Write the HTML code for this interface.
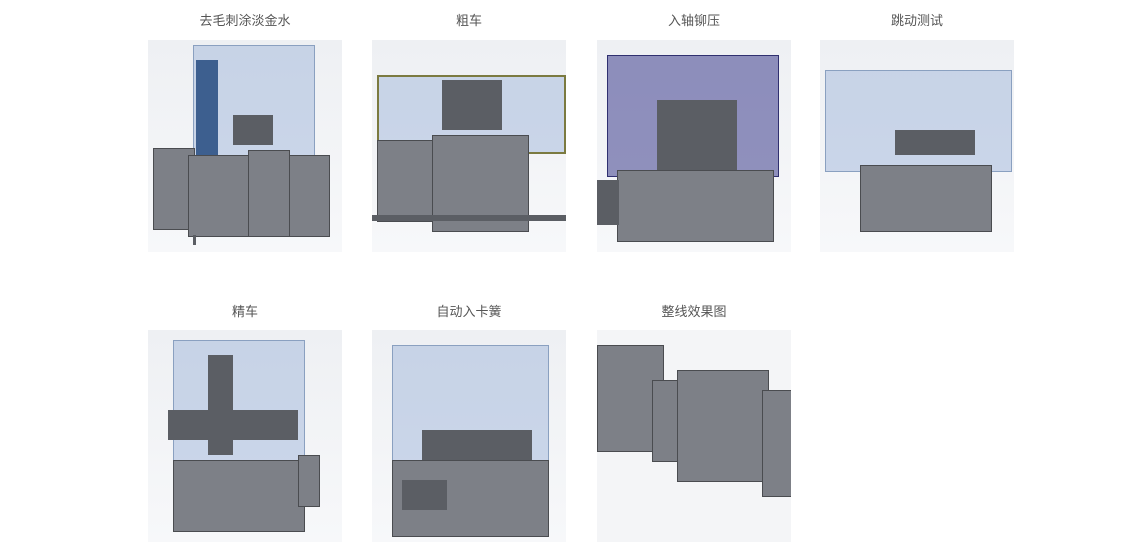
<!DOCTYPE html>
<html><head><meta charset="utf-8"><style>
body{margin:0;width:1133px;height:547px;background:#fff;position:relative;overflow:hidden;font-family:"Liberation Sans","Noto Sans CJK SC",sans-serif}
.cap{position:absolute;width:194px;text-align:center;font-size:13px;color:#555}
.img{position:absolute;width:194px;height:212px;background:linear-gradient(#eef0f3,#f7f8fa);overflow:hidden}
.img div{position:absolute}
.g{background:#7d8087;border:1px solid #4a4c50}
.d{background:#5b5e64}
.b{background:rgba(150,175,215,.45);border:1px solid #8aa0c0}
.nb{background:rgba(60,60,140,.55);border:1px solid #303070}
.w{background:#fff}
</style></head><body>
<div class="cap" style="left:148px;top:10px">去毛刺涂淡金水</div>
<div class="cap" style="left:372px;top:10px">粗车</div>
<div class="cap" style="left:597px;top:10px">入轴铆压</div>
<div class="cap" style="left:820px;top:10px">跳动测试</div>
<div class="cap" style="left:148px;top:301px">精车</div>
<div class="cap" style="left:372px;top:301px">自动入卡簧</div>
<div class="cap" style="left:597px;top:301px">整线效果图</div>

<div class="img" style="left:148px;top:40px">
 <div class="b" style="left:45px;top:5px;width:120px;height:110px"></div>
 <div style="left:48px;top:20px;width:22px;height:95px;background:#3d5f8f"></div>
 <div class="g" style="left:5px;top:108px;width:40px;height:80px"></div>
 <div class="g" style="left:40px;top:115px;width:140px;height:80px"></div>
 <div class="g" style="left:100px;top:110px;width:40px;height:85px"></div>
 <div class="d" style="left:85px;top:75px;width:40px;height:30px"></div>
 <div class="d" style="left:45px;top:195px;width:3px;height:10px"></div>
</div>

<div class="img" style="left:372px;top:40px">
 <div class="b" style="left:5px;top:35px;width:185px;height:75px;border:2px solid #7b7a40"></div>
 <div class="g" style="left:5px;top:100px;width:55px;height:80px"></div>
 <div class="g" style="left:60px;top:95px;width:95px;height:95px"></div>
 <div class="d" style="left:70px;top:40px;width:60px;height:50px"></div>
 <div class="d" style="left:0px;top:175px;width:194px;height:6px"></div>
</div>

<div class="img" style="left:597px;top:40px">
 <div class="nb" style="left:10px;top:15px;width:170px;height:120px"></div>
 <div class="d" style="left:60px;top:60px;width:80px;height:70px"></div>
 <div class="g" style="left:20px;top:130px;width:155px;height:70px"></div>
 <div class="d" style="left:0px;top:140px;width:22px;height:45px"></div>
</div>

<div class="img" style="left:820px;top:40px">
 <div class="b" style="left:5px;top:30px;width:185px;height:100px"></div>
 <div class="d" style="left:75px;top:90px;width:80px;height:25px"></div>
 <div class="g" style="left:40px;top:125px;width:130px;height:65px"></div>
</div>

<div class="img" style="left:148px;top:330px">
 <div class="b" style="left:25px;top:10px;width:130px;height:125px"></div>
 <div class="d" style="left:60px;top:25px;width:25px;height:100px"></div>
 <div class="d" style="left:20px;top:80px;width:130px;height:30px"></div>
 <div class="g" style="left:25px;top:130px;width:130px;height:70px"></div>
 <div class="g" style="left:150px;top:125px;width:20px;height:50px"></div>
</div>

<div class="img" style="left:372px;top:330px">
 <div class="b" style="left:20px;top:15px;width:155px;height:115px"></div>
 <div class="d" style="left:50px;top:100px;width:110px;height:30px"></div>
 <div class="g" style="left:20px;top:130px;width:155px;height:75px"></div>
 <div class="d" style="left:30px;top:150px;width:45px;height:30px"></div>
</div>

<div class="img" style="left:597px;top:330px;background:#f4f5f7">
 <div class="g" style="left:0px;top:15px;width:65px;height:105px"></div>
 <div class="g" style="left:55px;top:50px;width:40px;height:80px"></div>
 <div class="g" style="left:80px;top:40px;width:90px;height:110px"></div>
 <div class="g" style="left:165px;top:60px;width:29px;height:105px"></div>
</div>
</body></html>
